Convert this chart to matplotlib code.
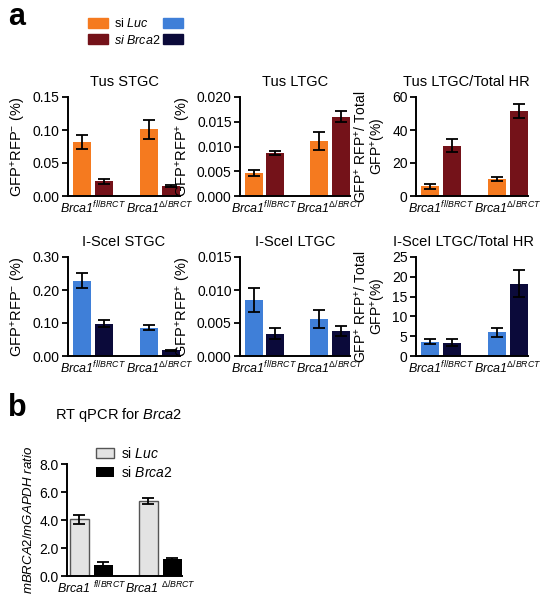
import numpy as np
import matplotlib.pyplot as plt
from matplotlib.patches import Patch

plt.rcParams['font.family'] = ['Liberation Sans', 'DejaVu Sans']
plt.rcParams['mathtext.fontset'] = 'custom'
plt.rcParams['mathtext.rm'] = 'Liberation Sans'
plt.rcParams['mathtext.it'] = 'Liberation Sans:italic'
plt.rcParams['mathtext.bf'] = 'Liberation Sans:bold'

# genotype labels
genotypes = [r'Brca1$^{fl/BRCT}$', r'Brca1$^{\Delta/BRCT}$']
genotypes_b = [r'Brca1 $^{fl/BRCT}$', r'Brca1 $^{\Delta/BRCT}$']

# Tus panels (siLuc, siBrca2), values per genotype
tus_stgc_luc = [0.082, 0.101]
tus_stgc_luc_err = [0.011, 0.014]
tus_stgc_kd = [0.022, 0.0155]
tus_stgc_kd_err = [0.004, 0.0018]

tus_ltgc_luc = [0.0047, 0.0111]
tus_ltgc_luc_err = [0.0006, 0.0019]
tus_ltgc_kd = [0.0087, 0.0160]
tus_ltgc_kd_err = [0.0004, 0.0011]

tus_ratio_luc = [5.9, 10.4]
tus_ratio_luc_err = [1.6, 1.4]
tus_ratio_kd = [30.5, 51.5]
tus_ratio_kd_err = [4.0, 4.0]

# I-SceI panels
isce_stgc_luc = [0.228, 0.086]
isce_stgc_luc_err = [0.023, 0.008]
isce_stgc_kd = [0.098, 0.017]
isce_stgc_kd_err = [0.010, 0.002]

isce_ltgc_luc = [0.0085, 0.0056]
isce_ltgc_luc_err = [0.0018, 0.0013]
isce_ltgc_kd = [0.0034, 0.0038]
isce_ltgc_kd_err = [0.0008, 0.0008]

isce_ratio_luc = [3.6, 6.0]
isce_ratio_luc_err = [0.6, 1.1]
isce_ratio_kd = [3.4, 18.3]
isce_ratio_kd_err = [0.8, 3.5]

# RT qPCR
qpcr_luc = [4.05, 5.35]
qpcr_luc_err = [0.32, 0.2]
qpcr_kd = [0.8, 1.21]
qpcr_kd_err = [0.2, 0.07]

orange = '#F57A1F'
maroon = '#741219'
blue = '#3F7FD8'
navy = '#0B0A3A'
light = '#E3E3E3'

lbl_stgc = r'GFP$^{+}$RFP$^{-}$ (%)'
lbl_ltgc = r'GFP$^{+}$RFP$^{+}$ (%)'
lbl_ratio = 'GFP$^{+}$ RFP$^{+}$/ Total\nGFP$^{+}$(%)'

fig = plt.figure(figsize=(5.4, 6), dpi=100)


def px_axes(x, y, w, h):
    return fig.add_axes([x / 540, 1 - (y + h) / 600, w / 540, h / 600])


def style(ax):
    for s in ['top', 'right']:
        ax.spines[s].set_visible(False)
    for s in ['left', 'bottom']:
        ax.spines[s].set_linewidth(1.4)
    ax.tick_params(axis='y', direction='out', length=4, width=1.3, labelsize=10, pad=2)
    ax.tick_params(axis='x', length=0, labelsize=9, pad=3)
    for t in ax.get_xticklabels():
        t.set_fontstyle('italic')


def panel(ax, luc, luc_err, kd, kd_err, c1, c2, ymax, yticks, fmt, title, ylabel,
          xa=(0, 3.65), xb=(1.2, 4.85), width=1.0, xlim=(-0.75, 5.35), edge=None,
          labels=genotypes, ylsize=10.5, tx=0.5):
    ax.bar(xa, luc, width, color=c1, edgecolor=edge if edge else c1, linewidth=1.0 if edge else 0)
    ax.bar(xb, kd, width, color=c2, edgecolor=c2, linewidth=0)
    ax.errorbar(xa, luc, yerr=luc_err, fmt='none', ecolor='black', capsize=4, elinewidth=1.3, capthick=1.3)
    ax.errorbar(xb, kd, yerr=kd_err, fmt='none', ecolor='black', capsize=4, elinewidth=1.3, capthick=1.3)
    ax.set_xlim(*xlim)
    ax.set_ylim(0, ymax)
    ax.set_yticks(yticks)
    ax.set_yticklabels([fmt.format(v) for v in yticks])
    ax.set_xticks([(a + b) / 2 for a, b in zip(xa, xb)])
    ax.set_xticklabels(labels)
    if title:
        ax.set_title(title, fontsize=10.5, pad=8, x=tx)
    ax.set_ylabel(ylabel, fontsize=ylsize, labelpad=3, linespacing=1.0)
    style(ax)


ax = px_axes(68, 97, 112, 99)
panel(ax, tus_stgc_luc, tus_stgc_luc_err, tus_stgc_kd, tus_stgc_kd_err, orange, maroon,
      0.15, [0, 0.05, 0.10, 0.15], '{:.2f}', 'Tus STGC', lbl_stgc)
ax = px_axes(240, 97, 110, 99)
panel(ax, tus_ltgc_luc, tus_ltgc_luc_err, tus_ltgc_kd, tus_ltgc_kd_err, orange, maroon,
      0.020, [0, 0.005, 0.010, 0.015, 0.020], '{:.3f}', 'Tus LTGC', lbl_ltgc)
ax = px_axes(416, 97, 112, 99)
panel(ax, tus_ratio_luc, tus_ratio_luc_err, tus_ratio_kd, tus_ratio_kd_err, orange, maroon,
      60, [0, 20, 40, 60], '{:.0f}', 'Tus LTGC/Total HR', lbl_ratio, ylsize=10, tx=0.45)

ax = px_axes(68, 257, 112, 99)
panel(ax, isce_stgc_luc, isce_stgc_luc_err, isce_stgc_kd, isce_stgc_kd_err, blue, navy,
      0.30, [0, 0.10, 0.20, 0.30], '{:.2f}', 'I-SceI STGC', lbl_stgc)
ax = px_axes(240, 257, 110, 99)
panel(ax, isce_ltgc_luc, isce_ltgc_luc_err, isce_ltgc_kd, isce_ltgc_kd_err, blue, navy,
      0.015, [0, 0.005, 0.010, 0.015], '{:.3f}', 'I-SceI LTGC', lbl_ltgc)
ax = px_axes(416, 257, 112, 99)
panel(ax, isce_ratio_luc, isce_ratio_luc_err, isce_ratio_kd, isce_ratio_kd_err, blue, navy,
      25, [0, 5, 10, 15, 20, 25], '{:.0f}', 'I-SceI LTGC/Total HR', lbl_ratio, ylsize=10, tx=0.42)

ax = px_axes(67, 464, 115, 112)
panel(ax, qpcr_luc, qpcr_luc_err, qpcr_kd, qpcr_kd_err, light, 'black',
      8.0, [0, 2, 4, 6, 8], '{:.1f}', None, r'$\mathit{mBRCA2/mGAPDH\ ratio}$',
      xa=(0, 3.5), xb=(1.22, 4.7), width=0.95, xlim=(-0.62, 5.2), edge='#555555',
      labels=genotypes_b, ylsize=9.5)
ax.legend(handles=[Patch(facecolor=light, edgecolor='#555555'), Patch(facecolor='black')],
          labels=['si $\\mathit{Luc}$', 'si $\\mathit{Brca2}$'],
          loc='upper left', bbox_to_anchor=(96 / 540, 1 - 446 / 600), bbox_transform=fig.transFigure,
          frameon=False, fontsize=10, handlelength=1.3, handleheight=0.75, borderpad=0,
          borderaxespad=0, handletextpad=0.5, labelspacing=0.3)

fig.text(55 / 540, 1 - 415 / 600, r'RT qPCR for $\mathit{Brca2}$', fontsize=10.5, va='center')

fig.legend(handles=[Patch(color=orange), Patch(color=maroon), Patch(color=blue), Patch(color=navy)],
           labels=['si $\\mathit{Luc}$', '$\\mathit{si\\ Brca2}$', '', ''], ncol=2,
           loc='upper left', bbox_to_anchor=(88 / 540, 1 - 17 / 600), frameon=False,
           fontsize=9, handlelength=1.6, handleheight=0.85, borderpad=0, borderaxespad=0,
           handletextpad=0.5, labelspacing=0.3, columnspacing=0.2)

fig.text(8 / 540, 1 - 2 / 600, 'a', fontsize=22, weight='bold', va='top')
fig.text(8 / 540, 1 - 393 / 600, 'b', fontsize=22, weight='bold', va='top')

fig.savefig('out.png', dpi=100)
